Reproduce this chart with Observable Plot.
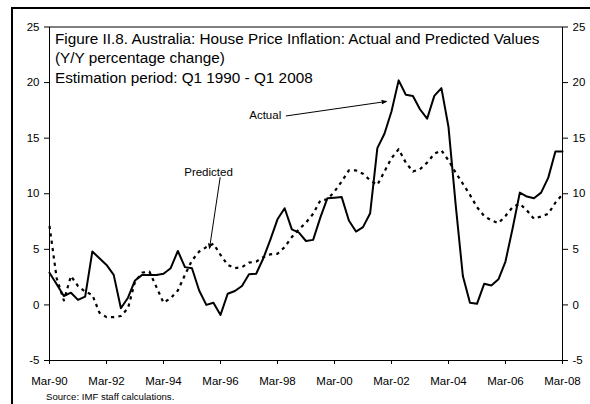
<!DOCTYPE html>
<html>
<head>
<meta charset="utf-8">
<script src="https://cdn.jsdelivr.net/npm/d3@7"></script>
<script src="https://cdn.jsdelivr.net/npm/@observablehq/plot@0.6"></script>
<style>
  html, body { margin: 0; padding: 0; background: #fff; }
  #wrap { position: relative; width: 590px; height: 404px; overflow: hidden; background: #fff;
          font-family: "Liberation Sans", Arial, sans-serif; color: #000; }
  #border { position: absolute; left: 11px; top: 7px; width: 700px; height: 600px;
            border-left: 2px solid #000; border-top: 2px solid #000; box-sizing: border-box; }
  #chart { position: absolute; left: 0; top: 0; }
  #source { position: absolute; left: 46px; top: 392px; font-size: 9.6px; line-height: 1; white-space: nowrap; }
</style>
</head>
<body>
<div id="wrap">
  <div id="border"></div>
  <div id="chart"></div>
  <div id="source">Source: IMF staff calculations.</div>
</div>
<script>
// Title lines (drawn inside the plot area)
const titleLines = [
  "Figure II.8. Australia: House Price Inflation: Actual and Predicted Values",
  "(Y/Y percentage change)",
  "Estimation period: Q1 1990 - Q1 2008"
];

// Quarterly observations, Mar-1990 ... Mar-2008 (73 quarters)
const startQuarter = "1990-03-01";
const endQuarter = "2008-03-01";

const actual = [
  2.9, 1.85, 0.8, 1.1, 0.45, 0.75, 4.8, 4.2, 3.6, 2.7,
  -0.3, 0.65, 2.2, 2.7, 2.7, 2.7, 2.8, 3.3, 4.85, 3.4,
  3.3, 1.3, 0.0, 0.2, -0.9, 1.0, 1.25, 1.7, 2.75, 2.8,
  4.2, 5.9, 7.7, 8.7, 6.8, 6.5, 5.75, 5.85, 7.85, 9.6,
  9.65, 9.7, 7.6, 6.6, 7.0, 8.25, 14.1, 15.4, 17.4, 20.2,
  18.9, 18.8, 17.6, 16.75, 18.8, 19.5, 16.0, 9.0, 2.6, 0.2,
  0.1, 1.9, 1.75, 2.3, 3.9, 6.9, 10.1, 9.75, 9.6, 10.1,
  11.45, 13.8, 13.8
];

const predicted = [
  7.1, 2.4, 0.4, 2.6, 1.7, 1.2, 0.9, -0.7, -1.1, -1.1,
  -1.0, -0.3, 2.1, 2.9, 3.0, 1.6, 0.2, 0.6, 1.3, 2.7,
  4.0, 4.8, 5.2, 5.5, 4.5, 3.6, 3.3, 3.4, 3.8, 3.9,
  4.3, 4.55, 4.6, 5.2, 6.1, 6.8, 7.4, 8.2, 9.4, 9.5,
  10.2, 11.1, 12.1, 12.1, 11.8, 11.2, 10.8, 12.0, 13.2, 14.0,
  12.8, 12.0, 12.2, 12.8, 13.6, 13.9, 13.0, 11.9, 10.9, 9.9,
  8.8, 8.0, 7.6, 7.35, 8.0, 8.8, 9.1, 8.5, 7.75, 7.95,
  8.2, 9.2, 9.95
];

// Axis ticks
const xTickLabels = ["Mar-90", "Mar-92", "Mar-94", "Mar-96", "Mar-98", "Mar-00", "Mar-02", "Mar-04", "Mar-06", "Mar-08"];
const yTicks = [-5, 0, 5, 10, 15, 20, 25];

// Annotations (data coordinates)
const labelText = ["Actual", "Predicted"];
const labelDate = ["1998-04-18", "1995-09-29"];
const labelValue = [17.1, 11.9];
const arrowFromDate = ["1998-06-21", "1996-02-25"];
const arrowFromValue = [17.0, 11.45];
const arrowToDate = ["2001-12-25", "1995-10-12"];
const arrowToValue = [18.3, 5.1];

// Build tables
const parseTick = d3.utcParse("%b-%y");
const fmtTick = d3.utcFormat("%b-%y");
const xTicks = xTickLabels.map(parseTick);
const quarters = d3.utcMonth.range(new Date(startQuarter), d3.utcDay.offset(new Date(endQuarter), 1), 3);
const actualRows = quarters.map((d, i) => ({date: d, value: actual[i]}));
const predictedRows = quarters.map((d, i) => ({date: d, value: predicted[i]}));
const labels = labelText.map((t, i) => ({text: t, date: new Date(labelDate[i]), value: labelValue[i]}));
const arrows = arrowFromDate.map((d, i) => ({
  x1: new Date(d), y1: arrowFromValue[i], x2: new Date(arrowToDate[i]), y2: arrowToValue[i]
}));

const font = '"Liberation Sans", Arial, sans-serif';
const yFmt = d => String(d);

const chart = Plot.plot({
  width: 590,
  height: 390,
  marginLeft: 49,
  marginRight: 28,
  marginTop: 26.5,
  marginBottom: 30,
  style: {fontFamily: font, fontSize: "11.5px", color: "#000", background: "transparent", overflow: "visible"},
  x: {type: "utc", domain: [new Date(startQuarter), new Date(endQuarter)]},
  y: {domain: [-5, 25]},
  marks: [
    Plot.frame({stroke: "#000", strokeWidth: 1}),
    Plot.axisX({ticks: xTicks, tickFormat: fmtTick, tickSize: 4, tickPadding: 12, fontSize: 11.5, label: null}),
    Plot.axisY({anchor: "left", ticks: yTicks, tickFormat: yFmt, tickSize: 5, tickPadding: 5, fontSize: 11.5, label: null}),
    Plot.axisY({anchor: "right", ticks: yTicks, tickFormat: yFmt, tickSize: 5, tickPadding: 5, fontSize: 11.5, label: null}),
    Plot.line(predictedRows, {x: "date", y: "value", stroke: "#000", strokeWidth: 2.2,
      strokeDasharray: "3.2,4.2", strokeLinecap: "butt", curve: "linear"}),
    Plot.line(actualRows, {x: "date", y: "value", stroke: "#000", strokeWidth: 2, curve: "linear"}),
    Plot.arrow(arrows, {x1: "x1", y1: "y1", x2: "x2", y2: "y2", stroke: "#000", fill: "#000",
      strokeWidth: 1, headLength: 7, headAngle: 40, bend: 0}),
    Plot.text(labels.slice(0, 1), {x: "date", y: "value", text: "text", textAnchor: "end", fontSize: 11.5, fill: "#000"}),
    Plot.text(labels.slice(1), {x: "date", y: "value", text: "text", textAnchor: "middle", fontSize: 11.5, fill: "#000"}),
    Plot.text([titleLines.join("\n")], {frameAnchor: "top-left", textAnchor: "start", lineAnchor: "top",
      dx: 5.5, dy: 3, lineHeight: 1.27, fontSize: 15.3, fill: "#000"})
  ]
});
document.getElementById("chart").appendChild(chart);
</script>
</body>
</html>
